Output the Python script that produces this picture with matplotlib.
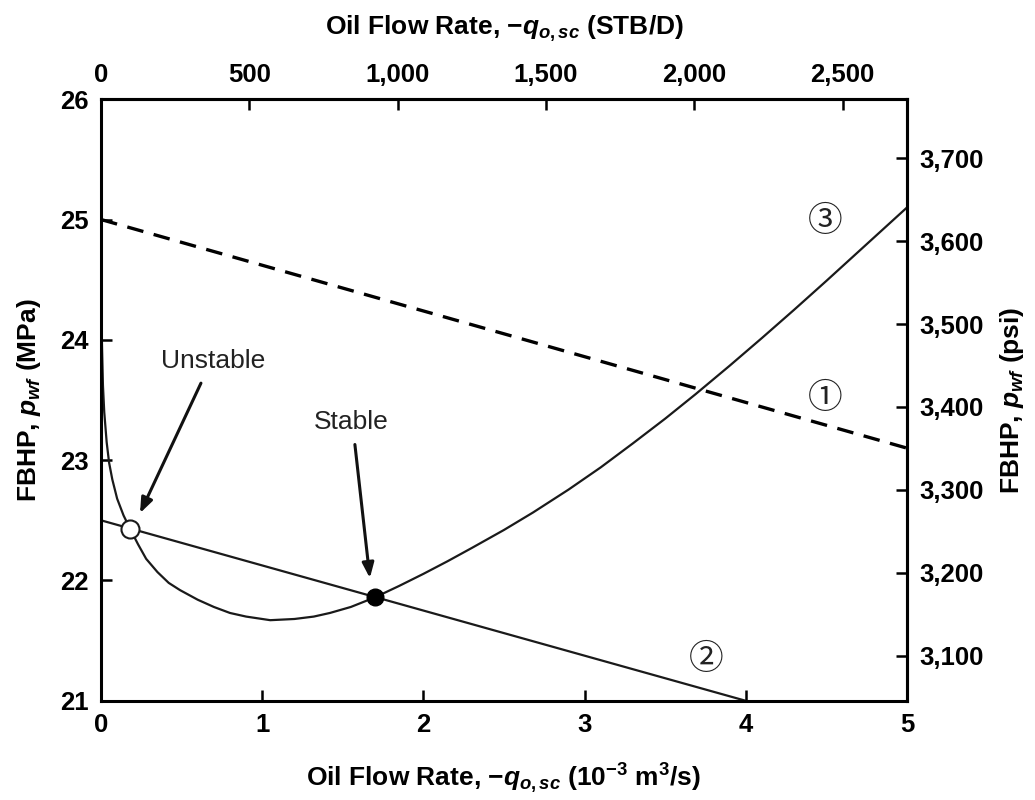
import numpy as np
import matplotlib
matplotlib.use("Agg")
import matplotlib.pyplot as plt

plt.rcParams['font.family'] = ['Liberation Sans', 'DejaVu Sans']
plt.rcParams['mathtext.fontset'] = 'custom'
plt.rcParams['mathtext.it'] = 'Liberation Sans:italic:bold'
plt.rcParams['mathtext.rm'] = 'Liberation Sans:bold'
plt.rcParams['mathtext.bf'] = 'Liberation Sans:bold'

# curve 1 (dashed), curve 2 (straight), curve 3 (tubing curve), in 1e-3 m3/s and MPa
line1_q = [0.0, 5.0]
line1_p = [25.0, 23.1]
line2_q = [0.0, 4.0]
line2_p = [22.5, 21.0]
curve3_q = [0.002, 0.006, 0.012, 0.02, 0.035, 0.05, 0.07, 0.10, 0.14, 0.18,
            0.23, 0.28, 0.35, 0.42, 0.49, 0.60, 0.70, 0.80, 0.90, 1.05,
            1.20, 1.32, 1.42, 1.55, 1.70, 1.85, 2.00, 2.15, 2.30, 2.50,
            2.68, 2.90, 3.10, 3.30, 3.50, 3.69, 3.90, 4.10, 4.30, 4.50,
            4.75, 5.0]
curve3_p = [24.25, 23.95, 23.62, 23.40, 23.15, 22.98, 22.84, 22.68, 22.54, 22.43,
            22.30, 22.18, 22.07, 21.98, 21.92, 21.84, 21.78, 21.73, 21.70, 21.67,
            21.68, 21.70, 21.73, 21.78, 21.86, 21.955, 22.055, 22.16, 22.27, 22.42,
            22.565, 22.755, 22.94, 23.14, 23.345, 23.55, 23.785, 24.015, 24.25, 24.49,
            24.795, 25.1]
unstable_pt = (0.18, 22.43)
stable_pt = (1.70, 21.86)

top_ticks = [0, 500, 1000, 1500, 2000, 2500]
right_ticks = [3100, 3200, 3300, 3400, 3500, 3600, 3700]

STB_PER_UNIT = 1e-3 * 86400 / 0.158987  # 1e-3 m3/s -> STB/D
PSI_PER_MPA = 145.038


def to_stb(x):
    return x * STB_PER_UNIT


def from_stb(x):
    return x / STB_PER_UNIT


def to_psi(y):
    return y * PSI_PER_MPA


def from_psi(y):
    return y / PSI_PER_MPA


fig = plt.figure(figsize=(10.35, 8), dpi=100)
ax = fig.add_axes([0.0976, 0.124, 0.7787, 0.752])

ax.plot(line1_q, line1_p, color='black', lw=2.4, linestyle=(0, (5, 3.2)))
ax.plot(line2_q, line2_p, color='#1a1a1a', lw=1.6)
ax.plot(curve3_q, curve3_p, color='#1a1a1a', lw=1.6)
ax.plot(*unstable_pt, 'o', ms=13, mfc='white', mec='#1a1a1a', mew=1.5, zorder=5)
ax.plot(*stable_pt, 'o', ms=12, mfc='black', mec='black', zorder=5)

ax.set_xlim(0, 5)
ax.set_ylim(21, 26)
ax.set_xticks([0, 1, 2, 3, 4, 5])
ax.set_yticks([21, 22, 23, 24, 25, 26])

TICK_FS = 18.5
for sp in ax.spines.values():
    sp.set_linewidth(2.2)
ax.tick_params(direction='in', length=8, width=1.8, labelsize=TICK_FS, pad=9)
for lab in ax.get_xticklabels() + ax.get_yticklabels():
    lab.set_fontweight('bold')

secx = ax.secondary_xaxis('top', functions=(to_stb, from_stb))
secx.set_xticks(top_ticks)
secx.set_xticklabels([f'{t:,}' for t in top_ticks], fontweight='bold')
secx.tick_params(direction='in', length=8, width=1.8, labelsize=TICK_FS, pad=9)
secx.spines['top'].set_linewidth(2.2)
secx.set_xlabel(r'Oil Flow Rate, $-q_{o,sc}$ (STB/D)', fontsize=19,
                fontweight='bold', labelpad=20)

secy = ax.secondary_yaxis('right', functions=(to_psi, from_psi))
secy.set_yticks(right_ticks)
secy.set_yticklabels([f'{t:,}' for t in right_ticks], fontweight='bold')
secy.tick_params(direction='in', length=8, width=1.8, labelsize=TICK_FS, pad=9)
secy.spines['right'].set_linewidth(2.2)
secy.set_ylabel(r'FBHP, $p_{wf}$ (psi)', fontsize=19, fontweight='bold',
                labelpad=10)

ax.set_xlabel(r'Oil Flow Rate, $-q_{o,sc}$ (10$^{-3}$ m$^3$/s)', fontsize=19,
              fontweight='bold', labelpad=17)
ax.set_ylabel(r'FBHP, $p_{wf}$ (MPa)', fontsize=19, fontweight='bold',
              labelpad=12)

arrow = dict(arrowstyle='-|>,head_length=0.9,head_width=0.35', color='#111111',
             lw=2.2, shrinkA=0, shrinkB=0)
ax.annotate('', xy=(0.242, 22.56), xytext=(0.62, 23.64), arrowprops=arrow)
ax.annotate('', xy=(1.668, 22.02), xytext=(1.575, 23.13), arrowprops=arrow)
ax.text(0.694, 23.82, 'Unstable', fontsize=19, color='#222222',
        ha='center', va='center')
ax.text(1.55, 23.32, 'Stable', fontsize=19, color='#222222',
        ha='center', va='center')

circ = dict(fontsize=25, color='#222222', ha='center', va='center',
            family=['Noto Sans CJK JP', 'DejaVu Sans'])
ax.text(4.49, 24.98, '\u2462', **circ)
ax.text(4.49, 23.51, '\u2460', **circ)
ax.text(3.755, 21.34, '\u2461', **circ)

fig.savefig('out.png', dpi=100)
